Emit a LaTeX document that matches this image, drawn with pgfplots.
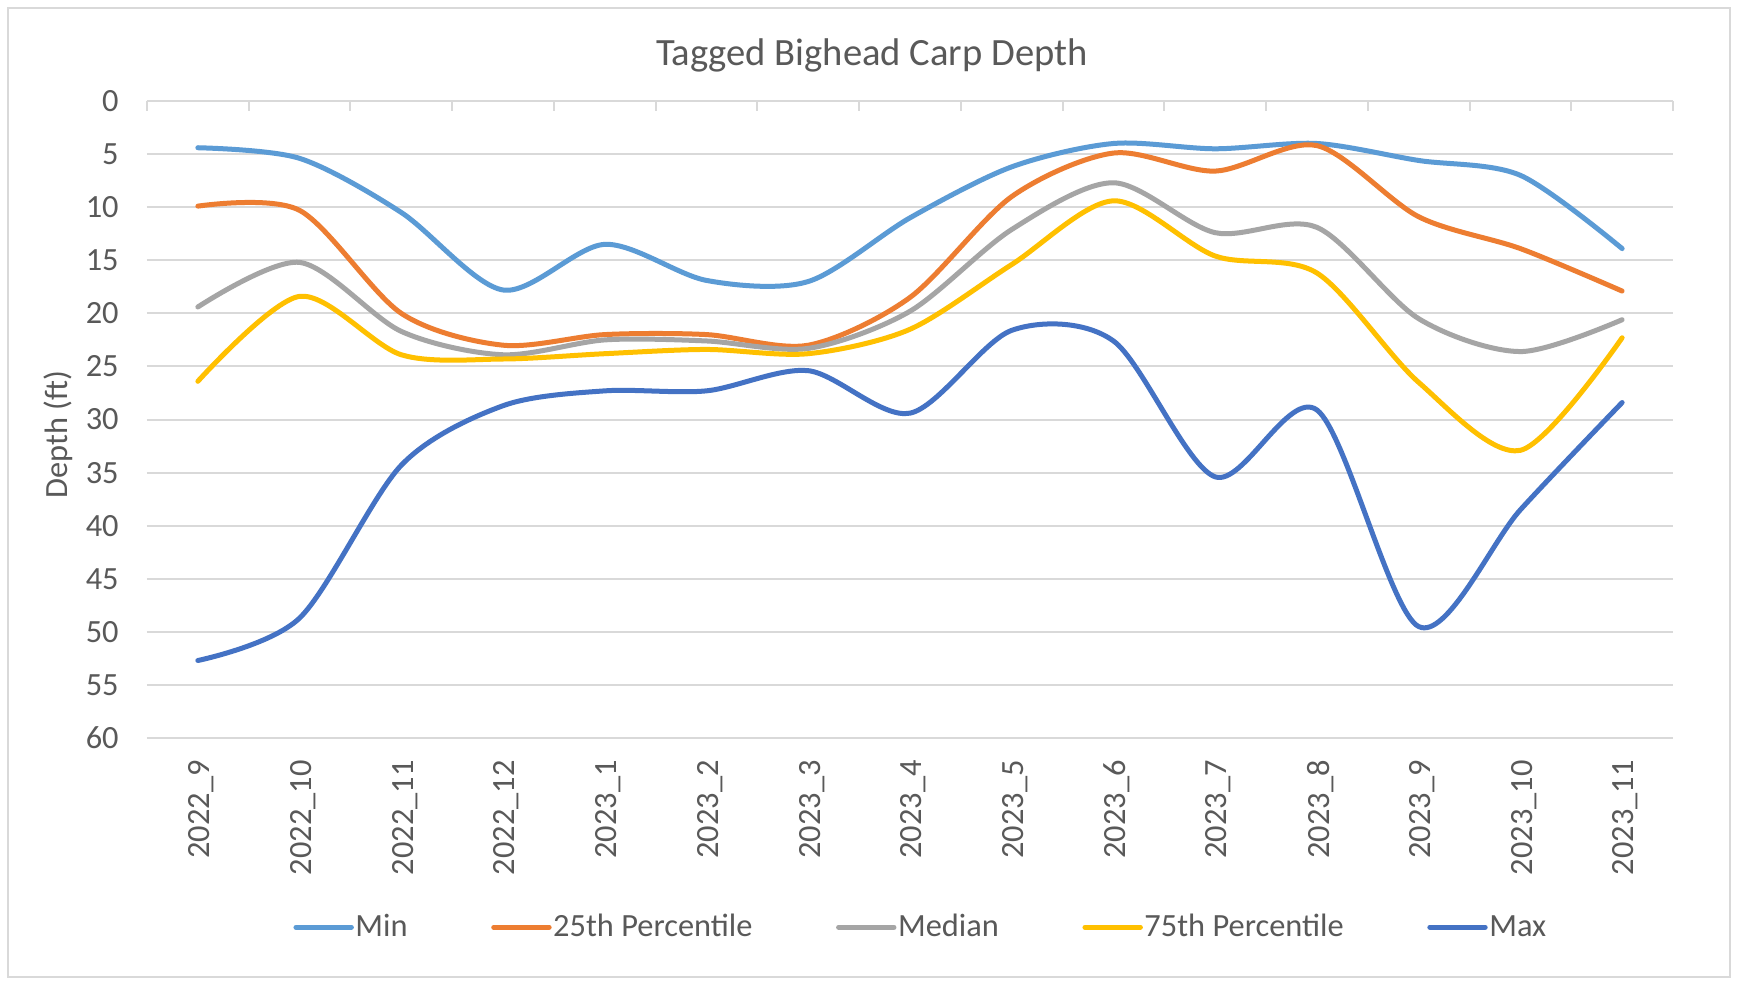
\documentclass[border=0pt]{standalone}
\usepackage{pgfplots}
\pgfplotsset{compat=1.18}
\usepackage{fontspec}
\setmainfont{Carlito}
\definecolor{cMin}{HTML}{5B9BD5}
\definecolor{cQ1}{HTML}{ED7D31}
\definecolor{cMed}{HTML}{A5A5A5}
\definecolor{cQ3}{HTML}{FFC000}
\definecolor{cMax}{HTML}{4472C4}
\definecolor{gridc}{HTML}{D9D9D9}
\definecolor{txt}{HTML}{595959}
\begin{document}
\begin{tikzpicture}
\path[use as bounding box, fill=white] (-73.5pt,-122pt) rectangle (795pt,369pt);
\begin{axis}[
  scale only axis,
  width=763pt, height=318.5pt,
  at={(0,0)}, anchor=south west,
  xmin=-0.5, xmax=14.5,
  ymin=0, ymax=60,
  y dir=reverse,
  ytick={0,5,...,60},
  xtick={0,...,14},
  xticklabels={2022\_9,2022\_10,2022\_11,2022\_12,2023\_1,2023\_2,2023\_3,2023\_4,2023\_5,2023\_6,2023\_7,2023\_8,2023\_9,2023\_10,2023\_11},
  minor xtick={-0.5,0.5,...,14.5},
  xtick pos=right, xticklabel pos=left,
  ytick pos=left, yticklabel pos=left,
  tick align=inside,
  major tick length=0pt,
  minor tick length=5pt,
  minor tick style={draw=gridc, line width=1pt},
  major tick style={draw=none},
  axis line style={draw=none},
  ymajorgrids,
  grid style={draw=gridc, line width=1pt},
  tick label style={font=\fontsize{16.2}{18}\selectfont, text=txt},
  yticklabel style={inner sep=0pt, xshift=-14pt, anchor=east},
  xticklabel style={rotate=90, anchor=east, inner sep=0pt, xshift=-11pt, yshift=-1.7pt},
  /pgf/number format/assume math mode=true,
  ylabel={Depth (ft)},
  ylabel style={at={(axis description cs:0,0.476)}, anchor=center, yshift=44.5pt, font=\fontsize{16.2}{18}\selectfont, text=txt},
  title={Tagged Bighead Carp Depth},
  title style={at={(axis description cs:0.475,1)}, anchor=base, yshift=12pt, font=\fontsize{19.3}{22}\selectfont, text=txt},
  legend columns=-1,
  legend style={draw=none, fill=none, at={(axis description cs:0.507,-0.297)}, anchor=center,
    font=\fontsize{16.2}{18}\selectfont, text=txt,
    nodes={inner sep=0.8pt},
    /tikz/every even column/.append style={column sep=41pt}},
  legend image code/.code={\draw[#1, line width=2.5pt, line cap=round] (0pt,0pt) -- (27.7pt,0pt);},
  every axis plot/.append style={smooth, line width=2.5pt, line cap=round, line join=round, mark=none},
]
\addplot[cMin] coordinates {(0,4.4) (1,5.4) (2,10.5) (3,17.8) (4,13.5) (5,16.9) (6,17.0) (7,11.0) (8,6.2) (9,4.0) (10,4.5) (11,4.0) (12,5.6) (13,7.0) (14,13.9)};
\addlegendentry{Min}
\addplot[cQ1] coordinates {(0,9.9) (1,10.3) (2,20.0) (3,23.0) (4,22.0) (5,22.0) (6,23.0) (7,18.5) (8,9.0) (9,4.9) (10,6.6) (11,4.2) (12,10.9) (13,13.9) (14,17.9)};
\addlegendentry{25th Percentile}
\addplot[cMed] coordinates {(0,19.4) (1,15.2) (2,21.7) (3,23.9) (4,22.5) (5,22.6) (6,23.3) (7,19.8) (8,12.1) (9,7.7) (10,12.4) (11,11.9) (12,20.5) (13,23.6) (14,20.6)};
\addlegendentry{Median}
\addplot[cQ3] coordinates {(0,26.4) (1,18.4) (2,23.9) (3,24.3) (4,23.8) (5,23.4) (6,23.8) (7,21.5) (8,15.4) (9,9.4) (10,14.6) (11,16.2) (12,26.5) (13,32.9) (14,22.3)};
\addlegendentry{75th Percentile}
\addplot[cMax] coordinates {(0,52.7) (1,48.7) (2,34.3) (3,28.7) (4,27.3) (5,27.3) (6,25.4) (7,29.4) (8,21.6) (9,22.6) (10,35.4) (11,29.1) (12,49.5) (13,38.5) (14,28.4)};
\addlegendentry{Max}
\end{axis}
\draw[gridc, line width=0.75pt] (-69.5pt,-119.5pt) rectangle (791.5pt,365pt);
\end{tikzpicture}
\end{document}
